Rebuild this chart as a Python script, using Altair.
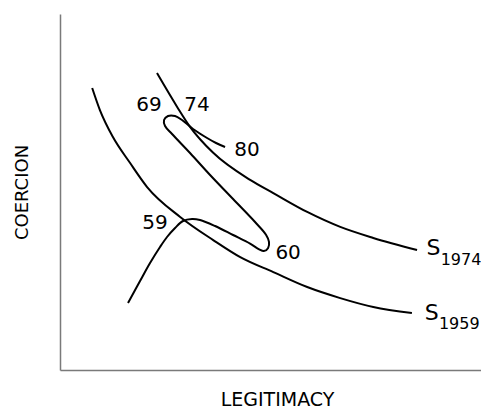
import altair as alt
import pandas as pd

# S curve for 1959 (legitimacy, coercion) in 0-100 units
s1959_x = [7.5, 9.3, 12.3, 16.3, 20.3, 28.0, 35.7, 42.0, 49.7, 57.6, 65.3, 73.0, 82.0]
s1959_y = [79.2, 73.0, 65.5, 58.2, 51.4, 43.0, 36.5, 31.7, 27.5, 23.3, 20.2, 17.7, 16.0]

# S curve for 1974
s1974_x = [22.6, 27.3, 30.3, 35.7, 44.3, 49.7, 57.6, 65.3, 73.0, 83.2]
s1974_y = [83.4, 73.9, 68.3, 61.0, 53.4, 49.7, 44.4, 40.2, 37.1, 33.7]

# Trajectory 1959 -> 1980
path_x = [15.85, 18.65, 20.98, 23.31, 24.94, 26.81, 28.67, 30.77, 32.63, 36.13, 40.33,
          44.29, 46.4, 47.5, 48.5, 48.7, 48.0, 45.45, 40.33, 34.97, 30.30, 26.11,
          24.48, 24.24, 25.17, 26.81, 28.44, 31.00, 34.27, 36.36, 38.46]
path_y = [18.82, 25.00, 30.06, 34.55, 37.36, 39.89, 41.85, 42.42, 42.13, 40.45, 37.92,
          35.5, 33.9, 33.4, 34.3, 36.0, 38.0, 41.57, 48.03, 54.78, 60.96, 66.29,
          68.54, 70.22, 71.35, 71.35, 70.22, 67.70, 65.17, 63.76, 62.64]

# Year annotations
year_text = ["69", "74", "80", "59", "60"]
year_x = [20.75, 31.93, 43.59, 22.14, 53.15]
year_y = [74.4, 74.4, 61.8, 41.3, 32.9]

# Curve name labels (S with year subscript)
curve_main = ["S", "S"]
curve_main_x = [85.4, 85.0]
curve_main_y = [34.3, 16.0]
curve_sub = ["1974", "1959"]
curve_sub_x = [88.7, 88.3]
curve_sub_y = [30.8, 12.9]

FONT = "DejaVu Sans"
xs = alt.Scale(domain=[0, 98.1], nice=False, zero=False)
ys = alt.Scale(domain=[0, 100], nice=False, zero=False)

x_axis = alt.Axis(title="LEGITIMACY", labels=False, ticks=False, grid=False,
                  domainColor="#7a7a7a", domainWidth=1.5,
                  titleFont=FONT, titleFontSize=19, titleFontWeight="normal",
                  titleColor="black", titleBaseline="alphabetic", titleY=35, titleX=217)
y_axis = alt.Axis(title="COERCION", labels=False, ticks=False, grid=False,
                  domainColor="#7a7a7a", domainWidth=1.5,
                  titleFont=FONT, titleFontSize=18, titleFontWeight="normal",
                  titleColor="black", titlePadding=29)


def X(field):
    return alt.X(field, type="quantitative", scale=xs, axis=x_axis)


def Y(field):
    return alt.Y(field, type="quantitative", scale=ys, axis=y_axis)


df59 = pd.DataFrame({"x": s1959_x, "y": s1959_y})
df74 = pd.DataFrame({"x": s1974_x, "y": s1974_y})
dfp = pd.DataFrame({"x": path_x, "y": path_y, "o": list(range(len(path_x)))})
dfy = pd.DataFrame({"x": year_x, "y": year_y, "t": year_text})
dfm = pd.DataFrame({"x": curve_main_x, "y": curve_main_y, "t": curve_main})
dfs = pd.DataFrame({"x": curve_sub_x, "y": curve_sub_y, "t": curve_sub})

l59 = alt.Chart(df59).mark_line(color="black", strokeWidth=2, interpolate="monotone").encode(
    x=X("x"), y=Y("y"))
l74 = alt.Chart(df74).mark_line(color="black", strokeWidth=2, interpolate="monotone").encode(
    x=X("x"), y=Y("y"))
lp = alt.Chart(dfp).mark_line(color="black", strokeWidth=2, interpolate="catmull-rom").encode(
    x=X("x"), y=Y("y"), order="o:Q")
ty = alt.Chart(dfy).mark_text(font=FONT, fontSize=20, color="black", align="center",
                              baseline="middle").encode(x=X("x"), y=Y("y"), text="t:N")
tm = alt.Chart(dfm).mark_text(font=FONT, fontSize=22, color="black", align="left",
                              baseline="middle").encode(x=X("x"), y=Y("y"), text="t:N")
ts = alt.Chart(dfs).mark_text(font=FONT, fontSize=16, color="black", align="left",
                              baseline="middle").encode(x=X("x"), y=Y("y"), text="t:N")

chart = alt.layer(l59, l74, lp, ty, tm, ts).properties(
    width=421, height=356,
    padding={"left": 52, "top": 6, "right": 0, "bottom": 40},
    autosize=alt.AutoSizeParams(type="none"),
    background="white",
).configure_view(stroke=None)

chart.save("out.html", embed_options={"renderer": "svg", "actions": False})
